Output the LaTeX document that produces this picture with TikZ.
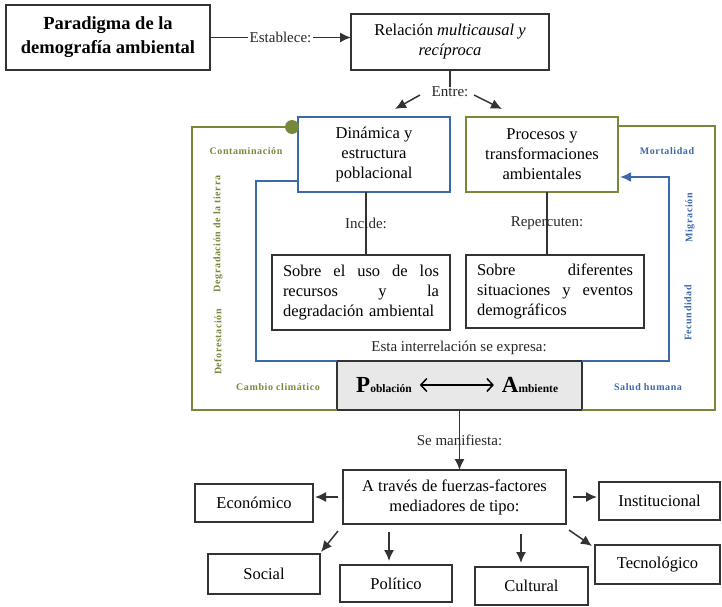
\documentclass[tikz,border=0pt]{standalone}
\usepackage{fontspec}
\setmainfont{Liberation Serif}
\newfontfamily\lsfont[LetterSpace=6]{Liberation Serif}
\usetikzlibrary{arrows.meta}
\definecolor{grn}{HTML}{76893A}
\definecolor{blu}{HTML}{3B68A8}
\definecolor{bdr}{HTML}{333333}
\definecolor{gfill}{HTML}{E8E8E8}
\newcommand{\boxfont}{\fontsize{16.5}{20}\selectfont}
\newcommand{\parfont}{\fontsize{18.5}{24}\selectfont\bfseries}
\newcommand{\labfont}{\fontsize{15}{16}\selectfont}
\newcommand{\sidefont}{\lsfont\bfseries\fontsize{10}{11}\selectfont}
\begin{document}
\begin{tikzpicture}[x=1pt,y=-1pt,
  every node/.style={inner sep=0pt, outer sep=0pt},
  box/.style={draw=bdr, line width=1.8pt, align=center, font=\boxfont, text=black},
  jbox/.style={box, align=left, text width=156pt},
  lab/.style={font=\labfont, text=black!85},
  conn/.style={draw=bdr, line width=1.5pt},
  arr/.style={conn, -{Latex[length=11pt,width=10pt]}},
  gline/.style={draw=grn, line width=2pt},
  bline/.style={draw=blu, line width=2pt},
  gside/.style={font=\sidefont, text=grn},
  bside/.style={font=\sidefont, text=blu}]
\useasboundingbox (0,0) rectangle (722,607);

% top
\node[box, minimum width=204, minimum height=65, font=\parfont] (par) at (108,37.5) {Paradigma de la\\demografía ambiental};
\node[box, minimum width=198, minimum height=56] (rel) at (450,42) {Relación \textit{multicausal y}\\\textit{recíproca}};
\draw[arr] (par.east) -- node[fill=white, inner sep=2pt, lab]{Establece:} (par.east -| rel.west);

\node[lab] (entre) at (450,92) {Entre:};
\draw[conn] (rel.south) -- (entre.north);
\coordinate (eLs) at (420,95);
\coordinate (eLe) at (395,109);
\coordinate (eRs) at (474,95);
\coordinate (eRe) at (502,109);
\draw[arr] (eLs) -- (eLe);
\draw[arr] (eRs) -- (eRe);

% middle boxes
\node[box, draw=blu, minimum width=152, minimum height=75] (din) at (374,154.5) {Dinámica y\\estructura\\poblacional};
\node[box, draw=grn, minimum width=152, minimum height=75] (proc) at (542,154.5) {Procesos y\\transformaciones\\ambientales};
\node[jbox, minimum width=178, minimum height=75] (uso) at (361,292.5) {Sobre\hfill el\hfill uso\hfill de\hfill los\\recursos\hfill y\hfill la\\degradación ambiental};
\node[jbox, minimum width=178, minimum height=73] (dif) at (555,291.5) {Sobre\hfill diferentes\\situaciones\hfill y\hfill eventos\\demográficos};

\draw[conn] ([xshift=-8pt]din.south) -- ([xshift=-8pt]din.south |- uso.north) node[midway, lab]{Incide:};
\draw[conn] ([xshift=5pt]proc.south) -- ([xshift=5pt]proc.south |- dif.north) node[midway, lab]{Repercuten:};

% poblacion ambiente
\node[box, fill=gfill, minimum width=245, minimum height=49] (pob) at (459.5,385.5) {};
\node[font=\bfseries] (pw) at (384,385) {\fontsize{23}{23}\selectfont P\fontsize{11.5}{11.5}\selectfont oblación};
\node[font=\bfseries] (aw) at (530,385) {\fontsize{23}{23}\selectfont A\fontsize{11.5}{11.5}\selectfont mbiente};
\draw[line width=1.5pt, {Straight Barb[length=6pt,width=13pt]}-{Straight Barb[length=6pt,width=13pt]}] ([xshift=8pt]pw.east) -- ([xshift=-8pt]aw.west);
\node[lab] (expr) at (459,348) {Esta interrelación se expresa:};

% green frame
\coordinate (gdot) at (292,127);
\coordinate (gx) at (192,0);
\draw[gline] (gdot) -- (gdot -| gx) |- (pob.south west);
\draw[gline] ([yshift=-9pt]proc.north east) -- ++(97,0) |- (pob.south east);
\fill[grn] (gdot) circle (7);

% blue lines
\coordinate (bx) at (669,0);
\coordinate (barr) at (620,177);
\draw[bline] ([yshift=11pt]din.south west) -- ++(-42,0) |- (pob.north west);
\draw[bline, -{Latex[length=11pt,width=10pt]}] (pob.north east) -- (pob.north east -| bx) |- (barr);

% side labels
\node[gside] (cont) at (246,151) {Contaminación};
\node[gside, rotate=90] (degr) at (218,234) {Degradación de la tierra};
\node[gside, rotate=90] (defo) at (218,342) {Deforestación};
\node[gside] (camb) at (278,387) {Cambio climático};
\node[bside] (mort) at (667,151) {Mortalidad};
\node[bside, rotate=90] (migr) at (690,218) {Migración};
\node[bside, rotate=90] (fecu) at (688,313) {Fecundidad};
\node[bside] (salu) at (648,387) {Salud humana};

% bottom
\node[box, minimum width=223, minimum height=54] (atr) at (454.5,497) {A través de fuerzas-factores\\mediadores de tipo:};
\draw[arr] (pob.south) -- (pob.south |- atr.north) node[midway, lab]{Se manifiesta:};

\node[box, minimum width=118, minimum height=38] (eco) at (254,503) {Económico};
\node[box, minimum width=121, minimum height=38] (inst) at (659.5,501) {Institucional};
\node[box, minimum width=112, minimum height=40] (soc) at (264,574) {Social};
\node[box, minimum width=112, minimum height=37] (pol) at (396,583.5) {Político};
\node[box, minimum width=113, minimum height=38] (cul) at (531.5,586) {Cultural};
\node[box, minimum width=125, minimum height=39] (tec) at (657.5,564.5) {Tecnológico};

\coordinate (aE) at (338,497);
\coordinate (aEe) at (315,497);
\draw[arr] (aE) -- (aEe);
\coordinate (aI) at (573,497);
\coordinate (aIe) at (597,497);
\draw[arr] (aI) -- (aIe);
\coordinate (aS) at (338,531);
\coordinate (aSe) at (321,552);
\draw[arr] (aS) -- (aSe);
\coordinate (aP) at (389,532);
\coordinate (aPe) at (389,561);
\draw[arr] (aP) -- (aPe);
\coordinate (aC) at (521,534);
\coordinate (aCe) at (521,563);
\draw[arr] (aC) -- (aCe);
\coordinate (aT) at (569,530);
\coordinate (aTe) at (592,546);
\draw[arr] (aT) -- (aTe);
\end{tikzpicture}
\end{document}
